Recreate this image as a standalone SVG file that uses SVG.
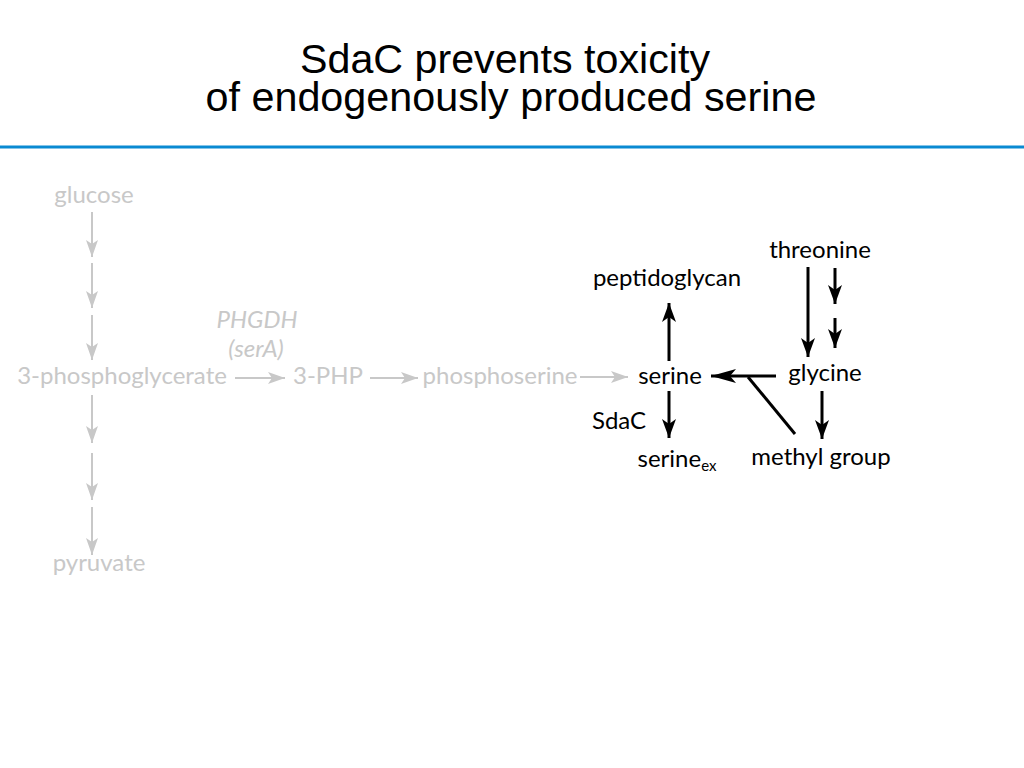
<svg xmlns="http://www.w3.org/2000/svg" width="1024" height="768" viewBox="0 0 1024 768">
<style>
.title{font-family:"Liberation Sans",Arial,sans-serif;font-size:41px;fill:#000;text-anchor:middle}
.t{font-family:Lato,"Noto Sans",sans-serif;font-size:24px;text-anchor:middle}
.g{fill:#c8c8c8}
.k{fill:#000}
.gl{stroke:#c8c8c8;stroke-width:2;fill:none}
.kl{stroke:#000;stroke-width:3;fill:none}
</style>
<defs>
<marker id="ag" markerUnits="userSpaceOnUse" markerWidth="18" markerHeight="12" refX="17" refY="6" orient="auto" viewBox="0 0 18 12">
<path d="M0,0 L17,6 L0,12 L4,6 z" fill="#c8c8c8"/>
</marker>
<marker id="ak" markerUnits="userSpaceOnUse" markerWidth="20" markerHeight="14" refX="19" refY="7" orient="auto" viewBox="0 0 20 14">
<path d="M0,0 L19,7 L0,14 L5,7 z" fill="#000"/>
</marker>
<marker id="akl" markerUnits="userSpaceOnUse" markerWidth="26" markerHeight="14" refX="25" refY="7" orient="auto" viewBox="0 0 26 14">
<path d="M0,0 L25,7 L0,14 L6,7 z" fill="#000"/>
</marker>
</defs>
<g id="title">
<text class="title" x="505" y="73" textLength="410" lengthAdjust="spacingAndGlyphs">SdaC prevents toxicity</text>
<text class="title" x="511" y="111" textLength="611" lengthAdjust="spacingAndGlyphs">of endogenously produced serine</text>
</g>
<line x1="0" y1="147" x2="1024" y2="147" stroke="#0a8ad2" stroke-width="3"/>
<g id="connectors">
<line class="gl" x1="92" y1="212" x2="92" y2="257" marker-end="url(#ag)"/>
<line class="gl" x1="92" y1="263" x2="92" y2="308" marker-end="url(#ag)"/>
<line class="gl" x1="92" y1="315" x2="92" y2="360" marker-end="url(#ag)"/>
<line class="gl" x1="92" y1="395" x2="92" y2="443" marker-end="url(#ag)"/>
<line class="gl" x1="92" y1="453" x2="92" y2="500" marker-end="url(#ag)"/>
<line class="gl" x1="92" y1="507" x2="92" y2="555" marker-end="url(#ag)"/>
<line class="gl" x1="235" y1="378" x2="285" y2="378" marker-end="url(#ag)"/>
<line class="gl" x1="370" y1="378" x2="418" y2="378" marker-end="url(#ag)"/>
<line class="gl" x1="580" y1="377" x2="628" y2="377" marker-end="url(#ag)"/>
<line class="kl" x1="669" y1="361" x2="669" y2="303" marker-end="url(#ak)"/>
<line class="kl" x1="669" y1="391" x2="669" y2="438" marker-end="url(#ak)"/>
<line class="kl" x1="808" y1="267" x2="808" y2="357" marker-end="url(#ak)"/>
<line class="kl" x1="835" y1="268" x2="835" y2="304" marker-end="url(#ak)"/>
<line class="kl" x1="835" y1="318" x2="835" y2="348" marker-end="url(#ak)"/>
<line class="kl" x1="776" y1="376" x2="711" y2="376" marker-end="url(#akl)"/>
<line class="kl" x1="748" y1="377" x2="795" y2="434"/>
<line class="kl" x1="822" y1="391" x2="822" y2="439" marker-end="url(#ak)"/>
</g>
<g id="glucose"><text class="t g" x="94" y="203">glucose</text></g>
<g id="pg3"><text class="t g" x="122" y="384">3-phosphoglycerate</text></g>
<g id="pyruvate"><text class="t g" x="99" y="571">pyruvate</text></g>
<g id="enzyme"><text class="t g" x="257" y="328" font-style="italic">PHGDH</text><text class="t g" x="256" y="357" font-style="italic">(serA)</text></g>
<g id="php"><text class="t g" x="328" y="384">3-PHP</text></g>
<g id="phosphoserine"><text class="t g" x="500" y="384">phosphoserine</text></g>
<g id="serine"><text class="t k" x="670" y="384">serine</text></g>
<g id="peptidoglycan"><text class="t k" x="667" y="286">peptidoglycan</text></g>
<g id="sdac"><text class="t k" x="619" y="429">SdaC</text></g>
<g id="serine-ex"><text class="t k" x="677" y="467">serine<tspan font-size="15" dy="4">ex</tspan></text></g>
<g id="threonine"><text class="t k" x="820" y="258">threonine</text></g>
<g id="glycine"><text class="t k" x="825" y="381">glycine</text></g>
<g id="methyl"><text class="t k" x="821" y="465">methyl group</text></g>
</svg>
